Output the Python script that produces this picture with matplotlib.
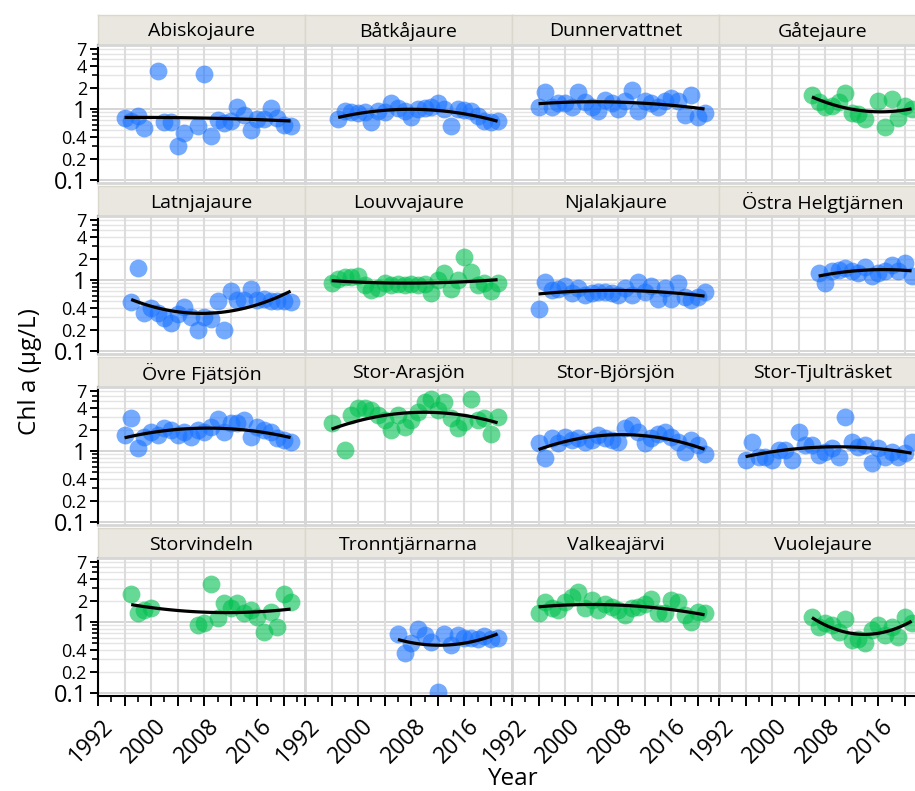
import numpy as np
import matplotlib
matplotlib.use("Agg")
import matplotlib.pyplot as plt
from matplotlib.ticker import FixedLocator, MultipleLocator, FuncFormatter, NullFormatter
from matplotlib.transforms import ScaledTranslation

plt.rcParams["font.family"] = ["Open Sans", "DejaVu Sans"]

# colours
blue_col = "#1a73ff"
green_col = "#00c050"
head_col = "#e9e7df"
grid_col = "#e4e4e4"

# data (Chl a, ug/L per year)
abisko_years = [1996, 1997, 1998, 1999, 2001, 2002, 2003, 2004, 2005, 2007, 2008, 2009,
                2010, 2011, 2012, 2013, 2014, 2015, 2016, 2017, 2018, 2019, 2020, 2021]
abisko_chl = [0.76, 0.68, 0.80, 0.55, 3.4, 0.66, 0.65, 0.30, 0.46, 0.58, 3.1, 0.42,
              0.70, 0.64, 0.68, 1.06, 0.82, 0.50, 0.72, 0.72, 1.02, 0.74, 0.60, 0.57]

batka_years = list(range(1997, 2022))
batka_chl = [0.72, 0.94, 0.90, 0.88, 0.90, 0.66, 0.93, 0.90, 1.20, 1.05, 0.93, 0.78, 1.00,
             1.05, 1.08, 1.20, 1.00, 0.58, 1.00, 0.97, 0.95, 0.80, 0.68, 0.66, 0.68]

dunner_years = list(range(1996, 2022))
dunner_chl = [1.08, 1.75, 1.08, 1.20, 1.20, 1.08, 1.75, 1.25, 1.08, 0.95, 1.35, 1.20, 1.00,
              1.30, 1.85, 0.95, 1.30, 1.20, 1.08, 1.30, 1.45, 1.30, 0.82, 1.57, 0.78, 0.87]

gate_years = [2006, 2007, 2008, 2009, 2010, 2011, 2012, 2013, 2014, 2016, 2017, 2018,
              2019, 2020, 2021]
gate_chl = [1.57, 1.25, 1.08, 1.12, 1.25, 1.66, 0.88, 0.85, 0.72, 1.32, 0.56, 1.38,
            0.74, 1.10, 1.00]

latnja_years = list(range(1997, 2022))
latnja_chl = [0.49, 1.49, 0.34, 0.40, 0.34, 0.29, 0.25, 0.33, 0.42, 0.30, 0.20, 0.30, 0.28,
              0.50, 0.20, 0.70, 0.52, 0.52, 0.75, 0.52, 0.55, 0.50, 0.50, 0.50, 0.49]

louvva_years = list(range(1996, 2022))
louvva_chl = [0.90, 1.05, 1.10, 1.10, 1.15, 0.85, 0.72, 0.78, 0.90, 0.86, 0.88, 0.86, 0.87,
              0.86, 0.88, 0.65, 1.00, 1.24, 0.75, 1.00, 2.13, 1.30, 0.85, 0.90, 0.70, 0.90]

njalak_years = list(range(1996, 2022))
njalak_chl = [0.39, 0.95, 0.72, 0.75, 0.83, 0.65, 0.78, 0.62, 0.65, 0.68, 0.68, 0.65, 0.62,
              0.78, 0.62, 0.95, 0.68, 0.82, 0.55, 0.78, 0.55, 0.90, 0.57, 0.53, 0.57, 0.68]

ostra_years = list(range(2007, 2022))
ostra_chl = [1.24, 0.90, 1.35, 1.40, 1.50, 1.35, 1.25, 1.54, 1.15, 1.25, 1.35, 1.62,
             1.35, 1.72, 1.15]

ovre_years = list(range(1996, 2022))
ovre_chl = [1.68, 2.88, 1.11, 1.59, 1.83, 1.68, 2.09, 1.98, 1.68, 1.83, 1.59, 1.98, 1.87,
            2.20, 2.85, 1.87, 2.45, 2.45, 2.73, 1.59, 2.20, 1.98, 1.87, 1.51, 1.43, 1.35]

arasjon_years = [1996] + list(range(1998, 2022))
arasjon_chl = [2.45, 1.03, 3.20, 4.00, 4.00, 3.78, 3.20, 2.73, 1.98, 3.20, 2.20, 2.73, 3.60,
               4.95, 5.50, 3.78, 4.95, 2.90, 2.09, 2.60, 5.35, 2.73, 2.90, 1.77, 3.04]

bjorsjon_years = list(range(1996, 2022))
bjorsjon_chl = [1.28, 0.79, 1.51, 1.28, 1.59, 1.43, 1.51, 1.35, 1.43, 1.68, 1.51, 1.43, 1.35,
                2.09, 2.32, 1.87, 1.28, 1.51, 1.77, 1.87, 1.59, 1.35, 0.98, 1.43, 1.21, 0.90]

tjul_years = list(range(1996, 2022))
tjul_chl = [0.75, 1.33, 0.83, 0.83, 0.75, 1.03, 1.03, 0.75, 1.83, 1.21, 1.21, 0.88, 0.98,
            1.09, 0.83, 3.04, 1.35, 1.15, 1.21, 0.67, 1.09, 0.83, 0.98, 0.83, 0.94, 1.35]

storvind_years = [1997, 1998, 1999, 2000] + list(range(2007, 2022))
storvind_chl = [2.45, 1.33, 1.48, 1.56, 0.91, 0.96, 3.40, 1.13, 1.83, 1.56, 1.83, 1.33,
                1.48, 1.19, 0.73, 1.41, 0.86, 2.45, 1.93]

tronnt_years = list(range(2006, 2022))
tronnt_chl = [0.69, 0.37, 0.50, 0.80, 0.66, 0.53, 0.104, 0.69, 0.47, 0.66, 0.59, 0.59,
              0.58, 0.64, 0.58, 0.59]

valkea_years = list(range(1996, 2022))
valkea_chl = [1.33, 1.89, 1.56, 1.48, 1.89, 2.27, 2.67, 1.56, 2.04, 1.48, 1.80, 1.65, 1.48,
              1.25, 1.56, 1.65, 1.80, 2.15, 1.33, 1.33, 2.04, 1.93, 1.25, 1.00, 1.41, 1.33]

vuole_years = list(range(2006, 2022))
vuole_chl = [1.19, 0.86, 0.96, 0.91, 0.73, 1.10, 0.56, 0.58, 0.50, 0.78, 0.91, 0.65,
             0.86, 0.62, 1.19, 0.96]

panels = [
    ("Abiskojaure", abisko_years, abisko_chl, blue_col),
    ("Båtkåjaure", batka_years, batka_chl, blue_col),
    ("Dunnervattnet", dunner_years, dunner_chl, blue_col),
    ("Gåtejaure", gate_years, gate_chl, green_col),
    ("Latnjajaure", latnja_years, latnja_chl, blue_col),
    ("Louvvajaure", louvva_years, louvva_chl, green_col),
    ("Njalakjaure", njalak_years, njalak_chl, blue_col),
    ("Östra Helgtjärnen", ostra_years, ostra_chl, blue_col),
    ("Övre Fjätsjön", ovre_years, ovre_chl, blue_col),
    ("Stor-Arasjön", arasjon_years, arasjon_chl, green_col),
    ("Stor-Björsjön", bjorsjon_years, bjorsjon_chl, blue_col),
    ("Stor-Tjulträsket", tjul_years, tjul_chl, blue_col),
    ("Storvindeln", storvind_years, storvind_chl, green_col),
    ("Tronntjärnarna", tronnt_years, tronnt_chl, blue_col),
    ("Valkeajärvi", valkea_years, valkea_chl, green_col),
    ("Vuolejaure", vuole_years, vuole_chl, green_col),
]

y_labels = [0.1, 0.2, 0.4, 1, 2, 4, 7]
y_minor = [0.3, 0.5, 0.6, 0.7, 0.8, 0.9, 3, 5, 6]
x_labels = [1992, 2000, 2008, 2016]

W, H = 915, 791


def px_axes(fig, x, y, w, h):
    return fig.add_axes([x / W, 1 - (y + h) / H, w / W, h / H])


def smooth(yrs, vals):
    # quadratic trend in log space
    x = np.asarray(yrs, float)
    ly = np.log10(np.asarray(vals, float))
    c = np.polyfit(x - x.mean(), ly, 2)
    xs = np.linspace(x.min(), x.max(), 120)
    return xs, 10 ** np.polyval(c, xs - x.mean())


fig = plt.figure(figsize=(W / 100, H / 100), dpi=100)
# rotated year labels: anchor right/top, nudged right and down from the tick (pixels)
lab_shift = ScaledTranslation(3 / 100, -18 / 100, fig.dpi_scale_trans)

col_x0, col_w = 98, 207
row_y0, row_h = 15, 171
head_h, plot_h = 30, 138

for i, (name, yrs, chl, col) in enumerate(panels):
    r, c = divmod(i, 4)
    x0 = col_x0 + c * col_w
    y0 = row_y0 + r * row_h

    # facet header
    hax = px_axes(fig, x0, y0, col_w, head_h)
    hax.set_facecolor(head_col)
    hax.set_xticks([])
    hax.set_yticks([])
    for s in hax.spines.values():
        s.set_color("#dad7cc")
        s.set_linewidth(1.0)
    hax.text(0.5, 0.45, name, ha="center", va="center", fontsize=14,
             transform=hax.transAxes)

    ax = px_axes(fig, x0, y0 + head_h, col_w, plot_h)
    ax.set_yscale("log")
    ax.set_xlim(1992, 1992 + col_w / 6.64)
    ax.set_ylim(0.091, 8.0)

    # grid
    for v in y_labels + y_minor:
        if v in (0.1, 1):
            ax.axhline(v, color="#d2d2d2", lw=1.3, zorder=0)
        else:
            ax.axhline(v, color=grid_col, lw=1.0, zorder=0)
    for yr in range(1996, 2024, 4):
        ax.axvline(yr, color="#dcdcdc", lw=1.5, zorder=0)

    ax.scatter(yrs, chl, s=165, color=col, alpha=0.6, linewidths=0, zorder=2)
    xs, ys = smooth(yrs, chl)
    ax.plot(xs, ys, color="black", lw=2.3, zorder=3, solid_capstyle="butt")

    for s in ax.spines.values():
        s.set_color("#d6d6d6")
        s.set_linewidth(2.0)

    ax.yaxis.set_major_locator(FixedLocator(y_labels))
    ax.yaxis.set_minor_locator(FixedLocator(y_minor))
    ax.xaxis.set_major_locator(MultipleLocator(4))
    ax.xaxis.set_minor_locator(MultipleLocator(2))

    if c == 0:
        ax.spines["left"].set_color("black")
        ax.spines["left"].set_linewidth(1.5)
        ax.yaxis.set_major_formatter(FuncFormatter(lambda v, p: f"{v:g}"))
        ax.yaxis.set_minor_formatter(NullFormatter())
        ax.tick_params(axis="y", which="major", length=6, width=1.4, labelsize=13, pad=2)
        ax.tick_params(axis="y", which="minor", length=4, width=1.2)
        for lab in ax.get_yticklabels():
            if lab.get_text() in ("0.1", "1"):
                lab.set_fontsize(17)
    else:
        ax.tick_params(axis="y", which="both", left=False, labelleft=False)

    if r == 3:
        ax.spines["bottom"].set_color("black")
        ax.spines["bottom"].set_linewidth(1.5)
        ax.tick_params(axis="x", which="major", length=7, width=1.4, labelbottom=False)
        ax.tick_params(axis="x", which="minor", length=4, width=1.2)
        base = ax.get_xaxis_transform()
        for yr in x_labels:
            ax.text(yr, 0, str(yr), transform=base + lab_shift, rotation=45,
                    rotation_mode="anchor", ha="right", va="top", fontsize=16.5,
                    clip_on=False)
    else:
        ax.tick_params(axis="x", which="both", bottom=False, labelbottom=False)

fig.text(30 / W, 1 - 372 / H, "Chl a (µg/L)", rotation=90, ha="center", va="center",
         fontsize=17.5)
fig.text(512 / W, 1 - 779 / H, "Year", ha="center", va="center", fontsize=17.5)

fig.savefig("out.png", dpi=100)
